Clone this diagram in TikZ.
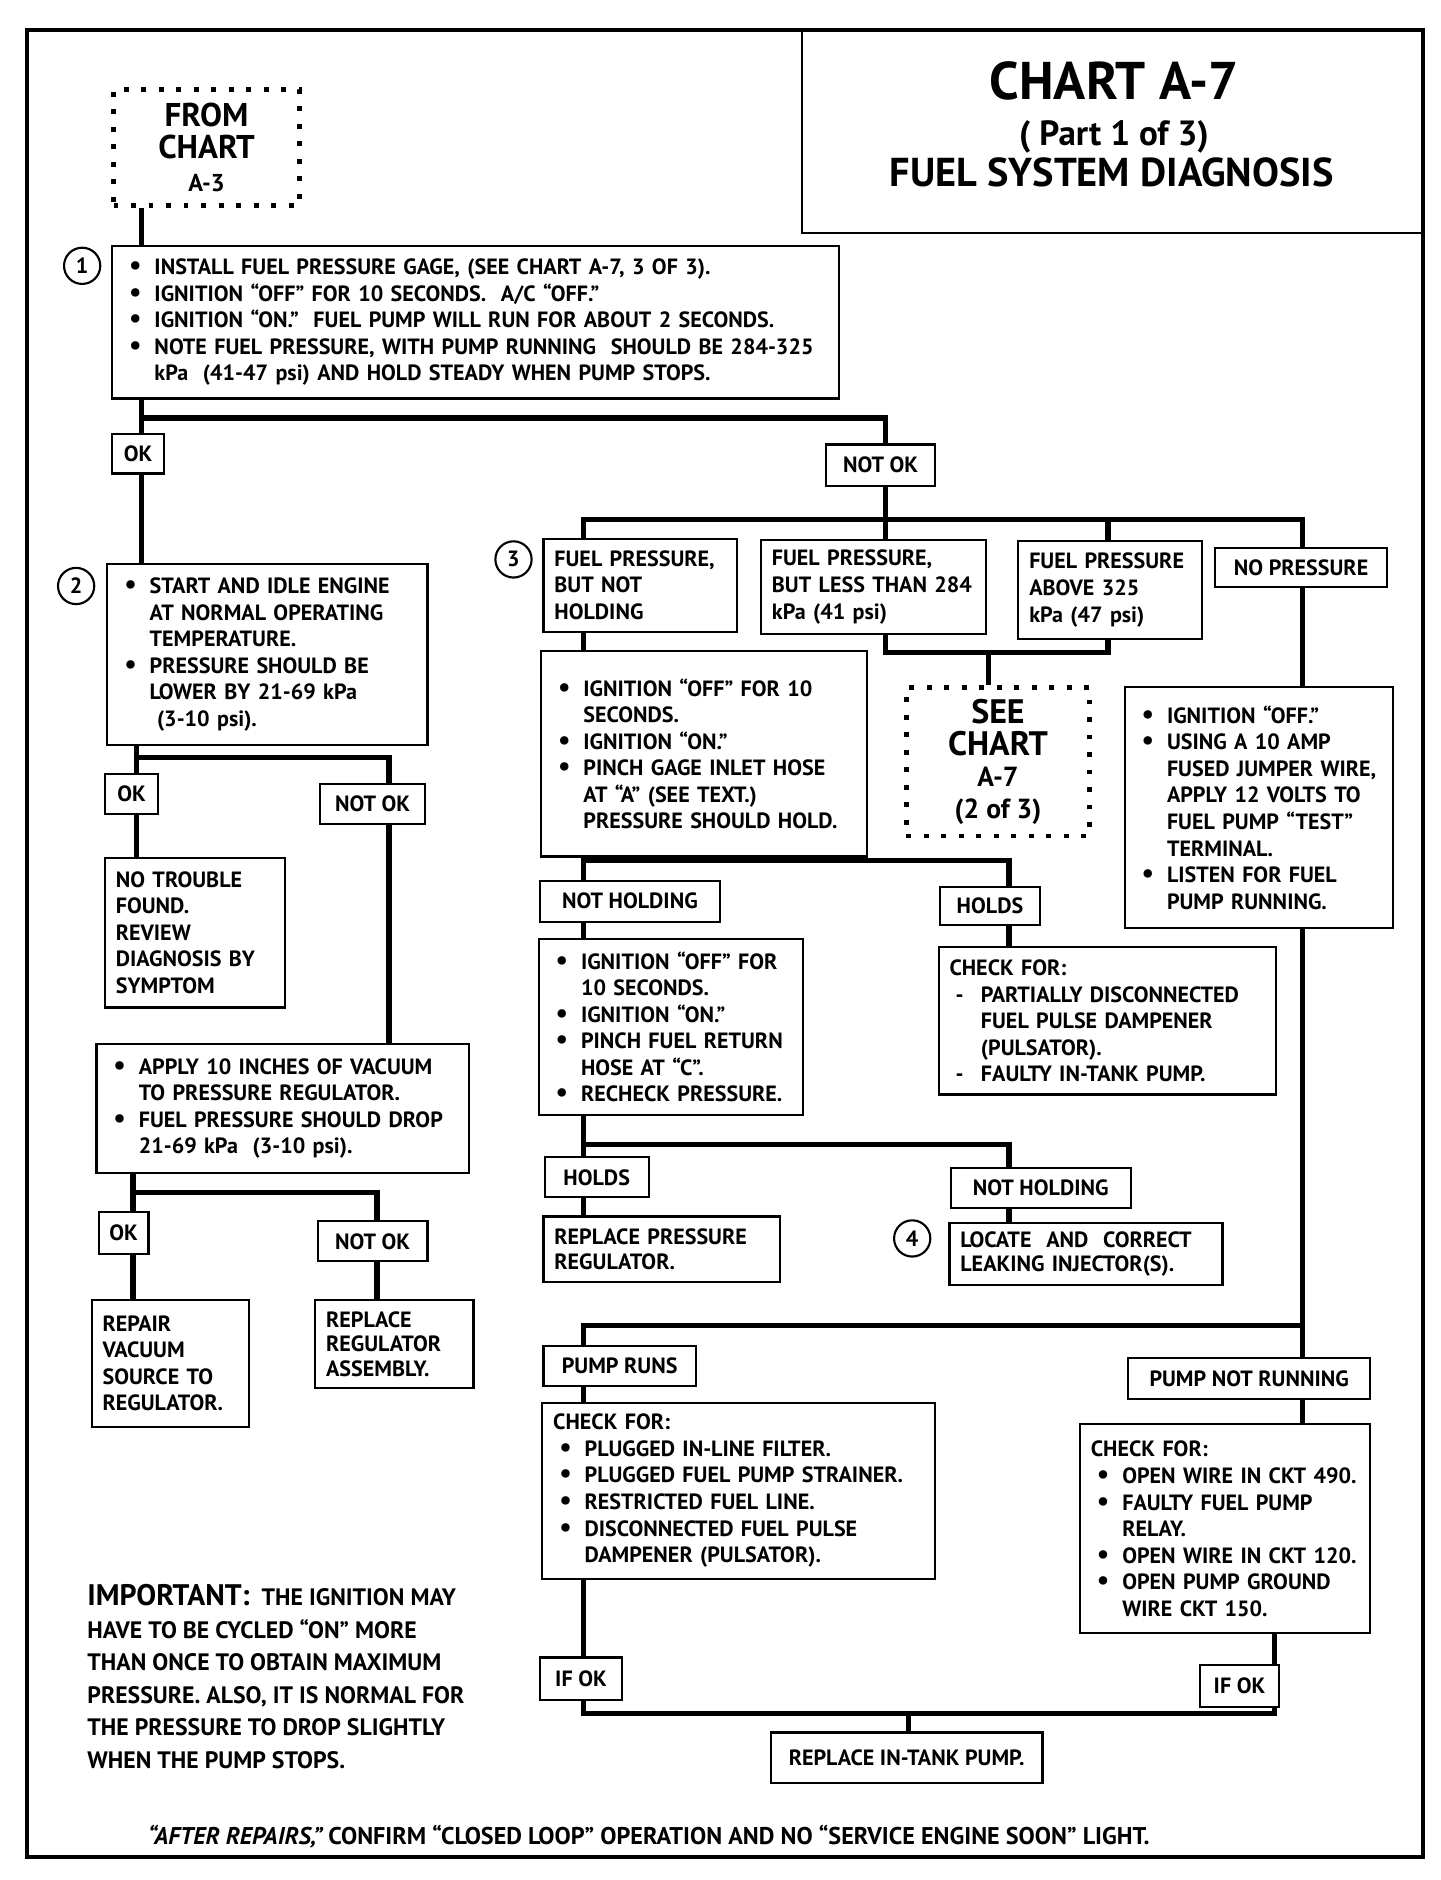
\documentclass[tikz,border=0pt]{standalone}
\usepackage{fontspec}
\setmainfont{PT Sans}
\newfontfamily\ttlfont{PT Sans}

\newcommand{\bl}{\hspace*{0.1cm}\makebox[0.42cm][l]{{\fontsize{13}{12}\selectfont\textbullet}}}
\newcommand{\ind}{\hspace*{0.52cm}}
\newcommand{\dsh}{\hspace*{0.1cm}\makebox[0.42cm][l]{-}}

\begin{document}
\begin{tikzpicture}[x=0.02cm, y=-0.02cm,
  every node/.style={font=\bfseries\fontsize{10.4}{12.5}\selectfont},
  bx/.style={draw, line width=1pt, anchor=north west, inner xsep=0.18cm, inner ysep=0pt, align=left},
  tag/.style={draw, line width=1pt, anchor=north west, inner sep=0pt, align=center},
  dots/.style={draw, line width=0.08cm, dash pattern=on 0.08cm off 0.21cm, anchor=north west, inner sep=0pt, align=center},
  num/.style={draw, circle, line width=1pt, minimum size=0.6cm, inner sep=0pt},
  wire/.style={line width=2.5pt}]
\useasboundingbox (0,0) rectangle (1192,1556);
\draw[line width=1.9pt] (22,25) rectangle (1178,1537);

% title
\node[tag, minimum width=10.3cm, minimum height=3.34cm] (title) at (663,25) {};
\node[font=\ttlfont\bfseries\fontsize{25}{28}\selectfont] (t1) at (922,67) {CHART A-7};
\node[font=\ttlfont\bfseries\fontsize{16.5}{18}\selectfont] (t2) at (922,113) {( Part 1 of 3)};
\node[font=\ttlfont\bfseries\fontsize{19}{21}\selectfont] (t3) at (920,143) {FUEL SYSTEM DIAGNOSIS};

% columns and buses
\coordinate (xa) at (117,0);
\coordinate (xb) at (733,0);
\coordinate (xc) at (483,0);
\coordinate (xd) at (917,0);
\coordinate (xe) at (1078,0);
\coordinate (xf) at (818,0);
\coordinate (xg) at (835,0);
\coordinate (xh) at (113,0);
\coordinate (xi) at (322,0);
\coordinate (xj) at (110,0);
\coordinate (xk) at (312,0);
\coordinate (xl) at (1055,0);
\coordinate (xm) at (752,0);
\coordinate (by1) at (0,346);
\coordinate (by2) at (0,430);
\coordinate (by3) at (0,540);
\coordinate (by4) at (0,712);
\coordinate (by5) at (0,947);
\coordinate (by6) at (0,1097);
\coordinate (by7) at (0,1418);
\coordinate (by8) at (0,627);
\coordinate (by9) at (0,987);

% top
\node[dots, minimum width=3.08cm, minimum height=1.92cm, font=\bfseries\fontsize{15.5}{15.3}\selectfont] (from) at (92,72)
  {FROM\\CHART\\{\fontsize{11.5}{15.3}\selectfont A-3}};
\node[num] (n1) at (68,220) {1};
\node[bx, text width=11.68cm, minimum height=2.52cm] (s1) at (92,203) {%
\bl INSTALL FUEL PRESSURE GAGE, (SEE CHART A-7, 3 OF 3).\\
\bl IGNITION “OFF” FOR 10 SECONDS.\ \ A/C “OFF.”\\
\bl IGNITION “ON.”\ \ FUEL PUMP WILL RUN FOR ABOUT 2 SECONDS.\\
\bl NOTE FUEL PRESSURE, WITH PUMP RUNNING\ \ SHOULD BE 284-325\\
\ind kPa\ \ (41-47 psi) AND HOLD STEADY WHEN PUMP STOPS.};
\node[tag, minimum width=0.86cm, minimum height=0.66cm] (ok1) at (92,358) {OK};
\node[tag, minimum width=1.8cm, minimum height=0.68cm] (notok1) at (683,367) {NOT OK};

% left column
\node[num] (n2) at (63,485) {2};
\node[bx, text width=4.94cm, minimum height=3.0cm] (s2) at (88,466) {%
\bl START AND IDLE ENGINE\\
\ind AT NORMAL OPERATING\\
\ind TEMPERATURE.\\
\bl PRESSURE SHOULD BE\\
\ind LOWER BY 21-69 kPa\\
\ind\ (3-10 psi).};
\node[tag, minimum width=0.88cm, minimum height=0.66cm] (ok2) at (86,640) {OK};
\node[tag, minimum width=1.74cm, minimum height=0.66cm] (notok2) at (264,648) {NOT OK};
\node[bx, text width=2.62cm, minimum height=2.48cm] (notr) at (86,709) {%
NO TROUBLE\\FOUND.\\REVIEW\\DIAGNOSIS BY\\SYMPTOM};
\node[bx, text width=5.8cm, minimum height=2.14cm] (s7) at (79,863) {%
\bl APPLY 10 INCHES OF VACUUM\\
\ind TO PRESSURE REGULATOR.\\
\bl FUEL PRESSURE SHOULD DROP\\
\ind 21-69 kPa\ \ (3-10 psi).};
\node[tag, minimum width=0.82cm, minimum height=0.7cm] (ok3) at (81,1002) {OK};
\node[tag, minimum width=1.82cm, minimum height=0.66cm] (notok3) at (262,1010) {NOT OK};
\node[bx, text width=2.24cm, minimum height=2.1cm] (repair) at (75,1075) {%
REPAIR\\VACUUM\\SOURCE TO\\REGULATOR.};
\node[bx, text width=2.26cm, minimum height=1.46cm, font=\bfseries\fontsize{10.4}{11.5}\selectfont] (replreg) at (260,1075) {%
REPLACE\\REGULATOR\\ASSEMBLY.};

% middle column
\node[num] (n3) at (425,463) {3};
\node[bx, text width=2.84cm, minimum height=1.54cm] (s3a) at (449,445) {%
FUEL PRESSURE,\\BUT NOT\\HOLDING};
\node[bx, text width=3.36cm, minimum height=1.56cm] (s3b) at (629,446) {%
FUEL PRESSURE,\\BUT LESS THAN 284\\kPa (41 psi)};
\node[bx, text width=2.68cm, minimum height=1.62cm] (s3c) at (842,447) {%
FUEL PRESSURE\\ABOVE 325\\kPa (47 psi)};
\node[tag, minimum width=2.84cm, minimum height=0.64cm] (nopr) at (1005,453) {NO PRESSURE};
\node[dots, minimum width=3.04cm, minimum height=2.46cm, font=\bfseries\fontsize{16}{14.8}\selectfont] (see) at (748,567)
  {SEE\\CHART\\{\fontsize{13}{14.8}\selectfont A-7}\\{\fontsize{13}{14.8}\selectfont (2 of 3)}};
\node[bx, text width=5.04cm, minimum height=3.4cm] (s4) at (447,538) {%
\bl IGNITION “OFF” FOR 10\\
\ind SECONDS.\\
\bl IGNITION “ON.”\\
\bl PINCH GAGE INLET HOSE\\
\ind AT “A” (SEE TEXT.)\\
\ind PRESSURE SHOULD HOLD.\\[0.5cm]};
\node[tag, minimum width=2.98cm, minimum height=0.68cm] (notholda) at (446,728) {NOT HOLDING};
\node[tag, minimum width=1.66cm, minimum height=0.64cm] (holdsa) at (777,733) {HOLDS};
\node[bx, text width=5.22cm, minimum height=2.44cm] (chk1) at (776,783) {%
CHECK FOR:\\
\dsh PARTIALLY DISCONNECTED\\
\ind FUEL PULSE DAMPENER\\
\ind (PULSATOR).\\
\dsh FAULTY IN-TANK PUMP.};
\node[bx, text width=4.02cm, minimum height=2.92cm] (s5) at (445,776) {%
\bl IGNITION “OFF” FOR\\
\ind 10 SECONDS.\\
\bl IGNITION “ON.”\\
\bl PINCH FUEL RETURN\\
\ind HOSE AT “C”.\\
\bl RECHECK PRESSURE.};
\node[tag, minimum width=1.72cm, minimum height=0.66cm] (holdsb) at (450,957) {HOLDS};
\node[bx, text width=3.56cm, minimum height=1.08cm, font=\bfseries\fontsize{10.4}{11.5}\selectfont] (repreg) at (449,1006) {%
REPLACE PRESSURE\\REGULATOR.};
\node[tag, minimum width=2.98cm, minimum height=0.66cm] (notholdb) at (786,966) {NOT HOLDING};
\node[num] (n4) at (755,1025) {4};
\node[bx, text width=4.16cm, minimum height=1.04cm, font=\bfseries\fontsize{10.4}{11.5}\selectfont] (locate) at (785,1011) {%
LOCATE\ \ AND\ \ CORRECT\\LEAKING INJECTOR(S).};

% right column
\node[bx, text width=4.08cm, minimum height=3.98cm] (s6) at (930,568) {%
\bl IGNITION “OFF.”\\
\bl USING A 10 AMP\\
\ind FUSED JUMPER WIRE,\\
\ind APPLY 12 VOLTS TO\\
\ind FUEL PUMP “TEST”\\
\ind TERMINAL.\\
\bl LISTEN FOR FUEL\\
\ind PUMP RUNNING.};

% bottom
\node[tag, minimum width=2.52cm, minimum height=0.66cm] (pruns) at (449,1113) {PUMP RUNS};
\node[tag, minimum width=4.0cm, minimum height=0.68cm] (prnot) at (933,1123) {PUMP NOT RUNNING};
\node[bx, text width=6.14cm, minimum height=2.92cm] (chk2) at (448,1160) {%
CHECK FOR:\\
\bl PLUGGED IN-LINE FILTER.\\
\bl PLUGGED FUEL PUMP STRAINER.\\
\bl RESTRICTED FUEL LINE.\\
\bl DISCONNECTED FUEL PULSE\\
\ind DAMPENER (PULSATOR).};
\node[bx, text width=4.44cm, minimum height=3.46cm] (chk3) at (893,1178) {%
CHECK FOR:\\
\bl OPEN WIRE IN CKT 490.\\
\bl FAULTY FUEL PUMP\\
\ind RELAY.\\
\bl OPEN WIRE IN CKT 120.\\
\bl OPEN PUMP GROUND\\
\ind WIRE CKT 150.};
\node[tag, minimum width=1.36cm, minimum height=0.7cm] (ifoka) at (446,1371) {IF OK};
\node[tag, minimum width=1.32cm, minimum height=0.7cm] (ifokb) at (992,1377) {IF OK};
\node[tag, minimum width=4.5cm, minimum height=0.84cm] (tank) at (637,1433) {REPLACE IN-TANK PUMP.};

\node[anchor=north west, inner sep=0pt, align=left, font=\bfseries\fontsize{11.2}{15.3}\selectfont] (imp) at (72,1311) {%
{\fontsize{14}{15.3}\selectfont IMPORTANT:}\ \ THE IGNITION MAY\\
HAVE TO BE CYCLED “ON” MORE\\
THAN ONCE TO OBTAIN MAXIMUM\\
PRESSURE.\ ALSO,\ IT IS NORMAL FOR\\
THE PRESSURE TO DROP SLIGHTLY\\
WHEN THE PUMP STOPS.};
\node[font=\bfseries\fontsize{11.4}{12.5}\selectfont] (foot) at (537,1520) {{\itshape “AFTER REPAIRS,”} CONFIRM “CLOSED LOOP” OPERATION AND NO “SERVICE ENGINE SOON” LIGHT.};

% connectors
\draw[wire] (xa |- from.south) -- (xa |- s1.north);
\draw[wire] (xa |- s1.south) -- (xa |- ok1.north);
\draw[wire] (xa |- by1) -| (xb |- notok1.north);
\draw[wire] (xa |- ok1.south) -- (xa |- s2.north);
\draw[wire] (xb |- notok1.south) -- (xb |- s3b.north);
\draw[wire] (xc |- s3a.north) |- (xe |- by2) -- (xe |- nopr.north);
\draw[wire] (xd |- by2) -- (xd |- s3c.north);
\draw[wire] (xb |- s3b.south) |- (xd |- by3) -- (xd |- s3c.south);
\draw[wire] (xf |- by3) -- (xf |- see.north);
\draw[wire] (xc |- s3a.south) -- (xc |- s4.north);
\draw[wire] (xc |- s4.south) -- (xc |- notholda.north);
\draw[wire] (xc |- by4) -| (xg |- holdsa.north);
\draw[wire] (xg |- holdsa.south) -- (xg |- chk1.north);
\draw[wire] (xc |- notholda.south) -- (xc |- s5.north);
\draw[wire] (xc |- s5.south) -- (xc |- holdsb.north);
\draw[wire] (xc |- by5) -| (xg |- notholdb.north);
\draw[wire] (xc |- holdsb.south) -- (xc |- repreg.north);
\draw[wire] (xg |- notholdb.south) -- (xg |- locate.north);
\draw[wire] (xe |- nopr.south) -- (xe |- s6.north);
\draw[wire] (xe |- s6.south) -- (xe |- prnot.north);
\draw[wire] (xe |- by6) -| (xc |- pruns.north);
\draw[wire] (xc |- pruns.south) -- (xc |- chk2.north);
\draw[wire] (xe |- prnot.south) -- (xe |- chk3.north);
\draw[wire] (xc |- chk2.south) -- (xc |- ifoka.north);
\draw[wire] (xl |- chk3.south) -- (xl |- ifokb.north);
\draw[wire] (xc |- ifoka.south) |- (xl |- by7) -- (xl |- ifokb.south);
\draw[wire] (xm |- by7) -- (xm |- tank.north);
\draw[wire] (xh |- s2.south) -- (xh |- ok2.north);
\draw[wire] (xh |- by8) -| (xi |- notok2.north);
\draw[wire] (xh |- ok2.south) -- (xh |- notr.north);
\draw[wire] (xi |- notok2.south) -- (xi |- s7.north);
\draw[wire] (xj |- s7.south) -- (xj |- ok3.north);
\draw[wire] (xj |- by9) -| (xk |- notok3.north);
\draw[wire] (xj |- ok3.south) -- (xj |- repair.north);
\draw[wire] (xk |- notok3.south) -- (xk |- replreg.north);
\end{tikzpicture}
\end{document}
